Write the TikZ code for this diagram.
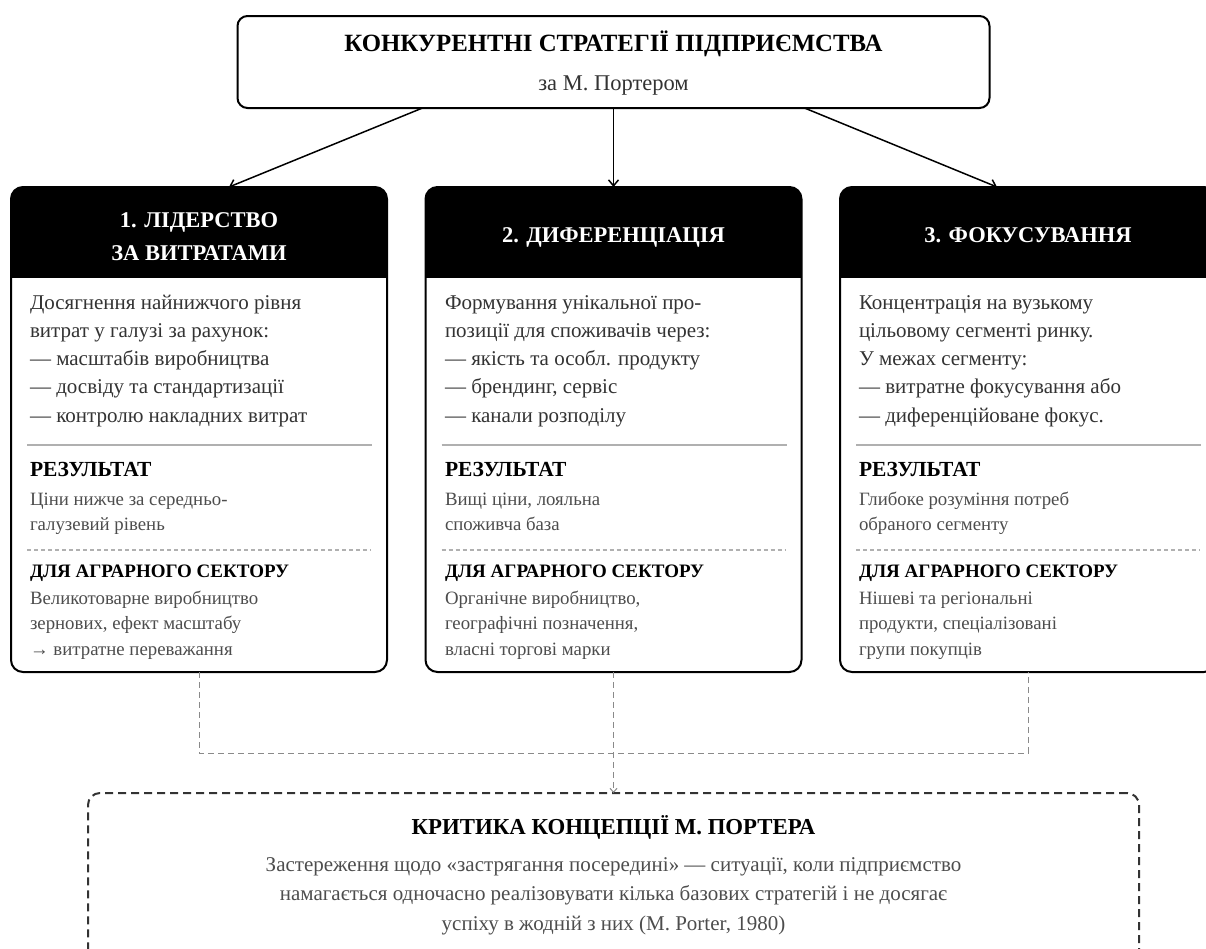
\documentclass[tikz,border=0pt]{standalone}
\usepackage{fontspec}
\setmainfont{Liberation Serif}
\usetikzlibrary{arrows.meta,calc}

\definecolor{bodygray}{HTML}{333333}
\definecolor{softgray}{HTML}{4D4D4D}
\definecolor{rulegray}{HTML}{B0B0B0}
\definecolor{linkgray}{HTML}{8A8A8A}
\definecolor{critgray}{HTML}{333333}

\tikzset{
  topbox/.style={draw=black, line width=2pt, rounded corners=10pt, fill=white,
    minimum width=752pt, minimum height=92pt, inner sep=0pt, outer sep=0pt},
  colbox/.style={draw=black, line width=2pt, rounded corners=12pt, fill=white,
    minimum width=376pt, minimum height=485pt, inner sep=0pt, outer sep=0pt},
  critbox/.style={draw=critgray, line width=2pt, dash pattern=on 8pt off 5pt,
    rounded corners=12pt, minimum width=1051pt, minimum height=260pt,
    inner sep=0pt, outer sep=0pt},
  txt/.style={inner sep=0pt, outer sep=0pt},
  titletxt/.style={txt, anchor=base, font=\fontsize{24.8}{28}\selectfont\bfseries},
  subtxt/.style={txt, anchor=base, text=bodygray, font=\fontsize{22.5}{26}\selectfont},
  headtxt/.style={txt, anchor=base, text=white, font=\fontsize{22.5}{26}\selectfont\bfseries},
  bodytxt/.style={txt, anchor=base west, text=bodygray, font=\fontsize{21}{26}\selectfont},
  labeltxt/.style={txt, anchor=base west, text=black, font=\fontsize{21.5}{24}\selectfont\bfseries},
  sectortxt/.style={txt, anchor=base west, text=black, font=\fontsize{19}{24}\selectfont\bfseries},
  notetxt/.style={txt, anchor=base west, text=softgray, font=\fontsize{18.8}{24}\selectfont},
  crittitle/.style={txt, anchor=base, font=\fontsize{22.8}{26}\selectfont\bfseries},
  crittxt/.style={txt, anchor=base, text=softgray, font=\fontsize{21}{24}\selectfont},
  solidrule/.style={draw=rulegray, line width=1.5pt},
  dashrule/.style={draw=rulegray, line width=1.2pt, dash pattern=on 4pt off 3pt},
  flow/.style={draw=black, line width=1.5pt, -{Straight Barb[length=6pt,width=10pt]}},
  link/.style={draw=linkgray, line width=1pt, dash pattern=on 6pt off 4pt},
}

% stack of text lines: name prefix, x, first baseline, step, style, lines
\newcommand\linestack[6]{%
  \foreach \txtline [count=\i] in {#6} {%
    \node[#5] (#1\i) at (#2, {#3+#4*(\i-1)}) {\txtline};
  }%
}

\begin{document}
\begin{tikzpicture}[x=1pt, y=-1pt]
\useasboundingbox (0,0) rectangle (1206,948);
\clip (0,0) rectangle (1206,948);

% title box
\node[topbox] (top) at (613.5,62) {};
\node[titletxt] (toptitle) at (613.5,51.5) {КОНКУРЕНТНІ СТРАТЕГІЇ ПІДПРИЄМСТВА};
\node[subtxt] (topsub) at (613.5,90) {за М. Портером};

% strategy columns
\node[colbox] (c1) at (199,429.5) {};
\node[colbox] (c2) at (613.5,429.5) {};
\node[colbox] (c3) at (1028,429.5) {};

% black headers and section rules
\foreach \c in {c1,c2,c3} {
  \begin{scope}
    \clip[rounded corners=12pt] (\c.north west) rectangle (\c.south east);
    \fill[black] (\c.north west) rectangle ($(\c.north east)+(0,91)$);
  \end{scope}
  \draw[solidrule] ($(\c.center)+(-172,15.5)$) -- ($(\c.center)+(173,15.5)$);
  \draw[dashrule] ($(\c.center)+(-172,120.5)$) -- ($(\c.center)+(172,120.5)$);
}

% column 1
\node[headtxt] (h1a) at (199,227) {1. ЛІДЕРСТВО};
\node[headtxt] (h1b) at (199,260) {ЗА ВИТРАТАМИ};
\linestack{c1b}{30}{309}{28.3}{bodytxt}{{Досягнення найнижчого рівня},{витрат у галузі за рахунок:},{— масштабів виробництва},{— досвіду та стандартизації},{— контролю накладних витрат}}
\node[labeltxt] (c1r) at (30,476.5) {РЕЗУЛЬТАТ};
\linestack{c1n}{30}{505}{25.5}{notetxt}{{Ціни нижче за середньо-},{галузевий рівень}}
\node[sectortxt] (c1s) at (30,577.5) {ДЛЯ АГРАРНОГО СЕКТОРУ};
\linestack{c1a}{30}{604}{25.5}{notetxt}{{Великотоварне виробництво},{зернових, ефект масштабу},{→ витратне переважання}}

% column 2
\node[headtxt] (h2) at (613.5,242.5) {2. ДИФЕРЕНЦІАЦІЯ};
\linestack{c2b}{445}{309}{28.3}{bodytxt}{{Формування унікальної про-},{позиції для споживачів через:},{— якість та особл. продукту},{— брендинг, сервіс},{— канали розподілу}}
\node[labeltxt] (c2r) at (445,476.5) {РЕЗУЛЬТАТ};
\linestack{c2n}{445}{505}{25.5}{notetxt}{{Вищі ціни, лояльна},{споживча база}}
\node[sectortxt] (c2s) at (445,577.5) {ДЛЯ АГРАРНОГО СЕКТОРУ};
\linestack{c2a}{445}{604}{25.5}{notetxt}{{Органічне виробництво,},{географічні позначення,},{власні торгові марки}}

% column 3
\node[headtxt] (h3) at (1028,242.5) {3. ФОКУСУВАННЯ};
\linestack{c3b}{859}{309}{28.3}{bodytxt}{{Концентрація на вузькому},{цільовому сегменті ринку.},{У межах сегменту:},{— витратне фокусування або},{— диференційоване фокус.}}
\node[labeltxt] (c3r) at (859,476.5) {РЕЗУЛЬТАТ};
\linestack{c3n}{859}{505}{25.5}{notetxt}{{Глибоке розуміння потреб},{обраного сегменту}}
\node[sectortxt] (c3s) at (859,577.5) {ДЛЯ АГРАРНОГО СЕКТОРУ};
\linestack{c3a}{859}{604}{25.5}{notetxt}{{Нішеві та регіональні},{продукти, спеціалізовані},{групи покупців}}

% arrows from the title box
\draw[flow] ([xshift=-191pt]top.south) -- ([xshift=30pt]c1.north);
\draw[flow] (top.south) -- (c2.north);
\draw[flow] ([xshift=191pt]top.south) -- ([xshift=-31pt]c3.north);

% critique box
\node[critbox] (crit) at (613.5,923) {};
\node[crittitle] (crith) at (613.5,834.5) {КРИТИКА КОНЦЕПЦІЇ М. ПОРТЕРА};
\node[crittxt] (crit1) at (613.5,871) {Застереження щодо «застрягання посередині» — ситуації, коли підприємство};
\node[crittxt] (crit2) at (613.5,900) {намагається одночасно реалізовувати кілька базових стратегій і не досягає};
\node[crittxt] (crit3) at (613.5,930) {успіху в жодній з них (M. Porter, 1980)};

% dashed links to the critique
\coordinate (j1) at ($(c1.south)+(0,81)$);
\draw[link] (c1.south) -- (j1) -| (c3.south);
\draw[link, -{Straight Barb[length=4pt,width=7pt]}] (c2.south) -- (crit.north);
\end{tikzpicture}
\end{document}
